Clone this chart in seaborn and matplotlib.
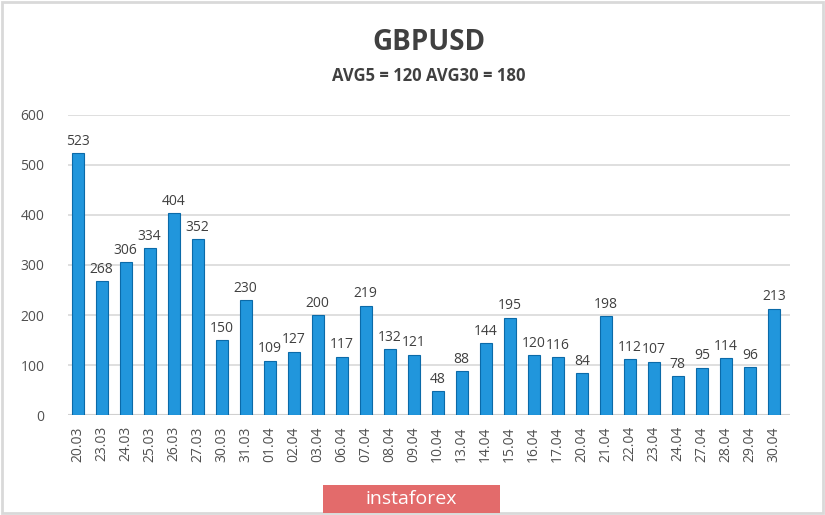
import pandas as pd
import matplotlib.pyplot as plt
import seaborn as sns
from matplotlib.patches import Rectangle

# Daily ranges in points
dates = ["20.03", "23.03", "24.03", "25.03", "26.03", "27.03", "30.03", "31.03",
         "01.04", "02.04", "03.04", "06.04", "07.04", "08.04", "09.04", "10.04",
         "13.04", "14.04", "15.04", "16.04", "17.04", "20.04", "21.04", "22.04",
         "23.04", "24.04", "27.04", "28.04", "29.04", "30.04"]
ranges = [523, 268, 306, 334, 404, 352, 150, 230, 109, 127, 200, 117, 219, 132,
          121, 48, 88, 144, 195, 120, 116, 84, 198, 112, 107, 78, 95, 114, 96, 213]
y_ticks = [0, 100, 200, 300, 400, 500, 600]

df = pd.DataFrame({"date": dates, "range": ranges})

sns.set_style("white")
plt.rcParams["font.family"] = ["Open Sans", "DejaVu Sans"]

fig = plt.figure(figsize=(8.25, 5.15), dpi=100)
ax = fig.add_axes([0.0824, 0.194, 0.875, 0.583])

sns.barplot(data=df, x="date", y="range", color="#2196dc", width=0.5,
            edgecolor="#0b6aa8", linewidth=0.8, saturation=1, ax=ax, zorder=3)

for c in ax.containers:
    ax.bar_label(c, padding=3, fontsize=10, color="#404040")

ax.set_ylim(0, 600)
ax.set_yticks(y_ticks)
ax.set_xlim(-0.4, len(dates) - 0.33)
ax.yaxis.grid(True, color="#d9d9d9", linewidth=1.2, zorder=0)
for s in ax.spines.values():
    s.set_visible(False)
ax.axhline(0, color="#d0d0d0", linewidth=1.5, zorder=1)
ax.tick_params(axis="y", length=0, labelsize=10, labelcolor="#505050", pad=17)
ax.tick_params(axis="x", length=0, labelsize=10, labelcolor="#505050", rotation=90, pad=8)
ax.set_xlabel("")
ax.set_ylabel("")

fig.text(0.52, 0.918, "GBPUSD", ha="center", va="center", fontsize=20,
         fontweight="bold", color="#404040")
fig.text(0.52, 0.853, "AVG5 = 120 AVG30 = 180", ha="center", va="center",
         fontsize=12, fontweight="bold", color="#404040")

# frame around figure
fig.patches.append(Rectangle((0.002, 0.004), 0.996, 0.992, transform=fig.transFigure,
                             fill=False, edgecolor="#d9d9d9", linewidth=2))
# watermark
fig.patches.append(Rectangle((323 / 825, 2 / 515), 177 / 825, 28 / 515,
                             transform=fig.transFigure, facecolor="#e36b6b",
                             edgecolor="none"))
fig.text(411 / 825, 16 / 515, "instaforex", ha="center", va="center",
         fontsize=14, color="white")

fig.savefig("out.png", dpi=100)
